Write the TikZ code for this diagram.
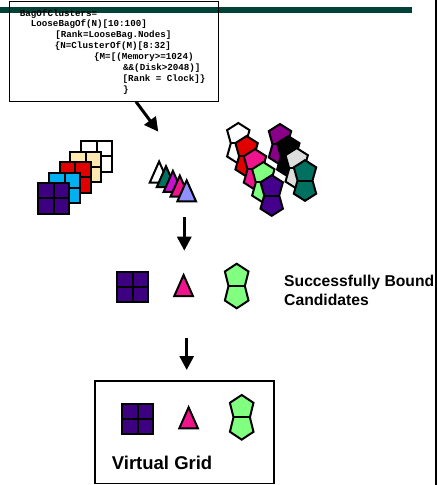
\documentclass[tikz,border=0pt]{standalone}
\usepackage{fontspec}
\setmainfont{Liberation Sans}
\newfontfamily\codefont[BoldFont={Liberation Mono Bold}]{Liberation Mono}
\usetikzlibrary{arrows.meta}
\definecolor{bargreen}{RGB}{0,66,56}
\definecolor{indigoc}{RGB}{60,0,128}
\definecolor{skyc}{RGB}{0,176,240}
\definecolor{redc}{RGB}{224,0,0}
\definecolor{tanc}{RGB}{255,232,176}
\definecolor{tealc}{RGB}{0,112,96}
\definecolor{magc}{RGB}{200,16,208}
\definecolor{pinkc}{RGB}{240,20,140}
\definecolor{lavc}{RGB}{144,144,255}
\definecolor{greenc}{RGB}{128,255,128}
\definecolor{purc}{RGB}{136,0,136}
\definecolor{grayc}{RGB}{221,221,221}
\definecolor{bowpur}{RGB}{68,0,140}
\tikzset{
  shapeline/.style={draw=black, line width=2pt},
  pics/gridsq/.style={code={
    \filldraw[shapeline, fill=#1] (-15.5,-15.2) rectangle (15.5,15.2);
    \draw[shapeline] (0,-15.2) -- (0,15.2) (-15.5,0) -- (15.5,0);
  }},
  pics/tri/.style={code={
    \filldraw[shapeline, fill=#1] (0,-10.5) -- (9.3,10.5) -- (-9.3,10.5) -- cycle;
  }},
  pics/bowtie/.style={code={
    \filldraw[shapeline, fill=#1] (0,-22.3) -- (11.8,-14.5) -- (8.2,0) -- (11.8,14.5) -- (0,22.3)
      -- (-11.8,14.5) -- (-8.2,0) -- (-11.8,-14.5) -- cycle;
    \draw[shapeline] (-8.2,0) -- (8.2,0);
  }},
  pics/smallbow/.style={code={
    \filldraw[shapeline, fill=#1] (0,-20.3) -- (11.2,-13.2) -- (7.5,0) -- (11.2,13.2) -- (0,20.3)
      -- (-11.2,13.2) -- (-7.5,0) -- (-11.2,-13.2) -- cycle;
    \draw[shapeline] (-7.5,0) -- (7.5,0);
  }},
  codeline/.style={anchor=base west, inner sep=0pt, font=\codefont\bfseries\fontsize{9.2}{10}\selectfont},
  biglabel/.style={anchor=base west, inner sep=0pt, font=\bfseries\fontsize{15.7}{18}\selectfont},
  flowarrow/.style={line width=3pt, -{Triangle[length=14pt,width=14pt]}},
}
\begin{document}
\begin{tikzpicture}[x=1pt,y=-1pt]
\useasboundingbox (0,0) rectangle (437,485);
% frame decorations
\fill[bargreen] (0,6.7) rectangle (411.7,12.7);
\draw[line width=1.7pt] (435.7,0) -- (435.7,485);
% code box
\node[draw, line width=1.5pt, minimum width=209pt, minimum height=100pt, inner sep=0pt] (codebox) at (114.2,51.7) {};
\node[codeline] (c1) at (19.7,16) {BagOfClusters=};
\node[codeline] (c2) at (30.7,26.9) {LooseBagOf(N)[10:100]};
\node[codeline] (c3) at (55.2,37.8) {[Rank=LooseBag.Nodes]};
\node[codeline] (c4) at (54.7,48.7) {\{N=ClusterOf(M)[8:32]};
\node[codeline] (c5) at (94,59.6) {\{M=[(Memory>=1024)};
\node[codeline] (c6) at (123,70.5) {\&\&(Disk>2048)]};
\node[codeline] (c7) at (122.5,81.4) {[Rank = Clock]\}};
\node[codeline] (c8) at (123,92.3) {\}};
% arrow 1
\coordinate (a1s) at (136,101.7);
\coordinate (a1e) at (158.3,131.7);
\draw[flowarrow] (a1s) -- (a1e);
% stacked squares
\pic at (96.6,156.3) {gridsq=white};
\pic at (85.9,166.8) {gridsq=tanc};
\pic at (75.2,177.3) {gridsq=redc};
\pic at (64.5,187.8) {gridsq=skyc};
\pic at (53.8,198.3) {gridsq=indigoc};
% stacked triangles
\pic at (159.1,172) {tri=white};
\pic at (166.0,176.7) {tri=tealc};
\pic at (172.9,181.4) {tri=magc};
\pic at (179.8,186.1) {tri=pinkc};
\pic at (186.7,190.8) {tri=lavc};
% stacked bowties, back column
\pic at (280,144.3) {smallbow=purc};
\pic at (288.3,156.4) {smallbow=black};
\pic at (296.7,168.4) {smallbow=grayc};
\pic at (305,180.5) {smallbow=tealc};
% stacked bowties, front column
\pic at (238.3,143.3) {smallbow=white};
\pic at (246.6,156.3) {smallbow=redc};
\pic at (255,169.4) {smallbow=pinkc};
\pic at (263.3,182.4) {smallbow=greenc};
\pic at (271.7,195.5) {smallbow=bowpur};
% arrow 2
\coordinate (a2s) at (184.3,217);
\coordinate (a2e) at (184.3,250.7);
\draw[flowarrow] (a2s) -- (a2e);
% bound candidates
\pic at (132.5,287.2) {gridsq=indigoc};
\pic at (183.6,285.5) {tri=pinkc};
\pic at (236.7,286) {bowtie=greenc};
\node[biglabel] (lab1) at (284,286.7) {Successfully Bound};
\node[biglabel] (lab2) at (284,305) {Candidates};
% arrow 3
\coordinate (a3s) at (186.7,338);
\coordinate (a3e) at (186.7,370);
\draw[flowarrow] (a3s) -- (a3e);
% virtual grid box
\node[draw, line width=1.3pt, minimum width=179pt, minimum height=102.5pt, inner sep=0pt] (vgbox) at (184.5,432.2) {};
\pic at (137.8,419.2) {gridsq=indigoc};
\pic at (188.6,417.8) {tri=pinkc};
\pic at (241.7,417.3) {bowtie=greenc};
\node[anchor=base west, inner sep=0pt, font=\bfseries\fontsize{18.5}{20}\selectfont] (vglab) at (111.7,469.3) {Virtual Grid};
\end{tikzpicture}
\end{document}
